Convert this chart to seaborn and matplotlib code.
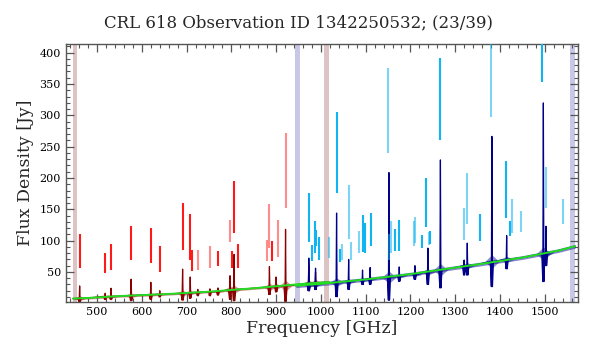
import numpy as np
import pandas as pd
import matplotlib
matplotlib.use("Agg")
import matplotlib.pyplot as plt
from matplotlib.ticker import MultipleLocator
import seaborn as sns

# ---------------- data ----------------
title = "CRL 618 Observation ID 1342250532; (23/39)"

# continuum (green fit) anchor points
slw_cont_freq = [446, 480, 550, 650, 750, 850, 960, 1018]
slw_cont_flux = [7.5, 8.5, 11.5, 14.5, 18.5, 24, 31, 34]
ssw_cont_freq = [944, 1000, 1100, 1200, 1300, 1350, 1450, 1530, 1568]
ssw_cont_flux = [28, 31, 38, 46.5, 57, 62, 73, 84, 91]

# spectral lines seen in the spectrum: frequency, peak, dip, local base, ringing amplitude
slw_line_freq = [461, 518, 531, 576, 620, 640, 691, 708, 725, 752, 770, 797, 806, 885, 900, 921, 973, 988]
slw_line_peak = [27.7, 16, 24, 38.5, 33.5, 20, 54.5, 42, 22, 23, 24.5, 44, 78, 58.7, 42, 118, 60, 50]
slw_line_dip = [2, 6, 6, 4, 6, 10, 5, 8, 12, 12, 13, 6, 4, 14, 18, 3, 20, 22]
slw_line_base = [8, 11, 11, 12.5, 14, 14.5, 16, 17, 17.5, 18.5, 19, 21.5, 22, 26, 27, 28, 32, 33]
slw_line_ring = [4, 2, 3, 4, 3, 2, 5, 4, 2, 2, 2, 6, 7, 6, 5, 9, 5, 5]

ssw_line_freq = [973, 988, 1035, 1062, 1093, 1110, 1152, 1175, 1210, 1239, 1267, 1320, 1327, 1382, 1415, 1497, 1503]
ssw_line_peak = [72, 56, 144, 70, 53, 57, 208.6, 58, 60, 88, 228.8, 69, 96, 266.4, 108, 319.8, 122.9]
ssw_line_dip = [20, 22, 10.5, 22, 30, 30, 5, 35, 38, 30, 24.5, 45, 45, 26.6, 55, 34.6, 60]
ssw_line_base = [30, 31, 33.5, 35, 37.5, 39, 41.6, 43.5, 46, 50, 53.4, 59.5, 60, 66.7, 70, 79, 80]
ssw_line_ring = [5, 5, 7, 4, 3, 3, 10, 3, 3, 5, 10, 3, 5, 11, 5, 11, 5]

# line-fit markers (vertical bars): frequency, top, bottom, strong detection flag
slw_mark_freq = [461, 518, 531, 576, 620, 640, 691, 708, 713, 725, 752, 770, 797, 802, 806, 815, 880, 885, 891, 905, 921, 973, 987]
slw_mark_top = [110.7, 81, 94.6, 124, 120.3, 90.8, 159.3, 142.7, 84.4, 85.5, 90.8, 83.9, 132.5, 84, 194.6, 94, 101.5, 158, 98.8, 133.6, 271.7, 171, 132]
slw_mark_bot = [56, 48, 53.4, 69.4, 64, 50.7, 85.5, 68.3, 52.3, 53.4, 56, 59.8, 97.2, 56, 112, 56.6, 67.3, 88.7, 67.3, 73.7, 151.3, 106, 86.5]
slw_mark_strong = [1, 1, 1, 1, 1, 1, 1, 1, 1, 0, 0, 1, 0, 1, 1, 1, 0, 0, 1, 0, 0, 0, 0]

ssw_mark_freq = [973, 980, 987, 990, 995, 1019, 1035, 1042, 1047, 1062, 1068, 1086, 1095, 1099, 1111,
                 1149, 1153, 1157, 1165, 1174, 1207, 1211, 1226, 1235, 1242, 1244, 1265,
                 1320, 1326, 1356, 1380, 1414, 1423, 1428, 1447, 1494, 1503, 1540]
ssw_mark_top = [176.4, 92.4, 132, 117.6, 106, 106, 305.9, 86.5, 94, 188.7, 97.2, 116, 140.5, 128.2, 144.3,
                375.5, 111.1, 130.9, 118.6, 132.5, 130.9, 138, 109.5, 199.4, 113, 115, 391.5,
                151.8, 207.5, 143.2, 430, 226.7, 130.9, 165.7, 148, 430, 217.6, 166.8]
ssw_mark_bot = [97.2, 66.7, 80.2, 90.8, 69.4, 72.1, 175.4, 65.1, 68.3, 102.6, 69.4, 80.2, 82.3, 80.2, 90.8,
                239.6, 68.3, 80.2, 82.8, 84, 90.8, 96, 88, 121.3, 92.4, 95, 261,
                101.5, 126.7, 99.4, 297.9, 136, 106.9, 112, 113, 353, 151.8, 126.7]
ssw_mark_strong = [1, 1, 1, 1, 1, 0, 1, 1, 0, 0, 0, 0, 1, 1, 1,
                   0, 0, 0, 1, 1, 0, 0, 1, 1, 0, 1, 1,
                   0, 0, 1, 0, 1, 1, 0, 0, 1, 0, 0]

# noise half-width of each detector spectrum
slw_noise = 1.8
ssw_noise = 3.0

# excluded band edges
slw_edges = [(446, 456), (1008, 1018)]
ssw_edges = [(942, 953), (1557, 1568)]

# ---------------- build spectra from read points ----------------
def build(cf, cy, lf, lp, ld, lb):
    pts = list(zip(cf, cy))
    for f, p, d, b in zip(lf, lp, ld, lb):
        pts += [(f - 3.5, b), (f - 1.2, d), (f, p), (f + 1.2, d), (f + 3.5, b)]
    pts.sort()
    return pd.DataFrame(pts, columns=["freq", "flux"])

slw = build(slw_cont_freq, slw_cont_flux, slw_line_freq, slw_line_peak, slw_line_dip, slw_line_base)
ssw = build(ssw_cont_freq, ssw_cont_flux, ssw_line_freq, ssw_line_peak, ssw_line_dip, ssw_line_base)
slw_cont = pd.DataFrame({"freq": slw_cont_freq, "flux": slw_cont_flux})
ssw_cont = pd.DataFrame({"freq": ssw_cont_freq, "flux": ssw_cont_flux})

# ---------------- plot ----------------
sns.set_style("ticks")
plt.rcParams["font.family"] = ["DejaVu Serif"]

fig = plt.figure(figsize=(5.98, 3.57), dpi=100)
ax = fig.add_axes([0.110, 0.154, 0.857, 0.723])

pink = "#dec3c5"
lav = "#c8c8e6"
for lo, hi in slw_edges:
    ax.axvspan(lo, hi, color=pink, lw=0, zorder=0)
for lo, hi in ssw_edges:
    ax.axvspan(lo, hi, color=lav, lw=0, zorder=0)

# noise bands
ax.fill_between(slw_cont_freq, np.array(slw_cont_flux) - slw_noise, np.array(slw_cont_flux) + slw_noise,
                color="#a02020", alpha=0.5, lw=0, zorder=1)
ax.fill_between(ssw_cont_freq, np.array(ssw_cont_flux) - ssw_noise, np.array(ssw_cont_flux) + ssw_noise,
                color="#2020a0", alpha=0.55, lw=0, zorder=1.1)

# ringing envelopes around lines
for f, b, r in zip(slw_line_freq, slw_line_base, slw_line_ring):
    ax.fill_between([f - 14, f, f + 14], [b, b - r, b], [b, b + r, b], color="#8b0000", alpha=0.4, lw=0, zorder=1.2)
for f, b, r in zip(ssw_line_freq, ssw_line_base, ssw_line_ring):
    ax.fill_between([f - 16, f, f + 16], [b, b - r, b], [b, b + r, b], color="#00008b", alpha=0.45, lw=0, zorder=1.3)

sns.lineplot(data=slw, x="freq", y="flux", sort=False, estimator=None, color="#8b0000", lw=0.9, ax=ax, zorder=2)
sns.lineplot(data=ssw, x="freq", y="flux", sort=False, estimator=None, color="#00008b", lw=0.9, ax=ax, zorder=2.1)
sns.lineplot(data=slw_cont, x="freq", y="flux", sort=False, estimator=None, color="#22dd22", lw=1.4, ax=ax, zorder=3)
sns.lineplot(data=ssw_cont, x="freq", y="flux", sort=False, estimator=None, color="#22dd22", lw=1.4, ax=ax, zorder=3)

# line markers
for f, t, b, s in zip(slw_mark_freq, slw_mark_top, slw_mark_bot, slw_mark_strong):
    ax.vlines(f, b, t, color="#ff1a1a", alpha=1.0 if s else 0.5, lw=1.5, zorder=4)
for f, t, b, s in zip(ssw_mark_freq, ssw_mark_top, ssw_mark_bot, ssw_mark_strong):
    ax.vlines(f, b, t, color="#10b4f0", alpha=1.0 if s else 0.55, lw=1.5, zorder=4)

ax.set_xlim(430, 1575)
ax.set_ylim(2, 414)
ax.xaxis.set_major_locator(MultipleLocator(100))
ax.xaxis.set_minor_locator(MultipleLocator(20))
ax.yaxis.set_major_locator(MultipleLocator(50))
ax.yaxis.set_minor_locator(MultipleLocator(10))
ax.tick_params(which="both", direction="in", top=True, right=True, colors="#555555", labelcolor="black", labelsize=8)
ax.tick_params(which="major", length=6, width=0.9)
ax.tick_params(which="minor", length=3, width=0.8)
for sp in ax.spines.values():
    sp.set_color("#555555")
    sp.set_linewidth(1.0)

ax.set_xlabel("Frequency [GHz]", fontsize=12.5, labelpad=2)
ax.set_ylabel("Flux Density [Jy]", fontsize=12.5, labelpad=4)
fig.text(0.5, 0.935, title, ha="center", va="center", fontsize=12)

fig.savefig("out.png", dpi=100)
